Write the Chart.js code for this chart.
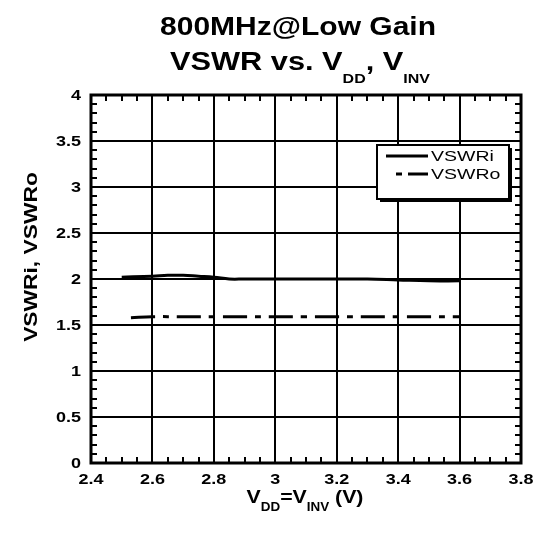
<!DOCTYPE html>
<html>
<head>
<meta charset="utf-8">
<script src="https://cdn.jsdelivr.net/npm/chart.js@4/dist/chart.umd.min.js"></script>
<style>
	html, body { margin: 0; padding: 0; background: #fff; }
	canvas { display: block; }
</style>
</head>
<body>
<canvas id="vswr" width="535" height="535"></canvas>
<script>
// values
var vddI = [2.5, 2.6, 2.65, 2.7, 2.75, 2.8, 2.85, 2.9, 3.0, 3.1, 3.2, 3.3, 3.4, 3.5, 3.6];
var vswri = [2.02, 2.03, 2.04, 2.04, 2.03, 2.02, 2.0, 2.0, 2.0, 2.0, 2.0, 2.0, 1.99, 1.98, 1.98];
var vddO = [2.53, 2.6, 2.7, 2.8, 2.9, 3.0, 3.1, 3.2, 3.3, 3.4, 3.5, 3.6];
var vswro = [1.58, 1.59, 1.59, 1.59, 1.59, 1.59, 1.59, 1.59, 1.59, 1.59, 1.59, 1.59];

var xTicks = [2.4, 2.6, 2.8, 3.0, 3.2, 3.4, 3.6, 3.8];
var xTickLabels = ['2.4', '2.6', '2.8', '3', '3.2', '3.4', '3.6', '3.8'];
var yTicks = [0, 0.5, 1, 1.5, 2, 2.5, 3, 3.5, 4];
var yTickLabels = ['0', '0.5', '1', '1.5', '2', '2.5', '3', '3.5', '4'];

var FONT = '"Liberation Sans", Arial, Helvetica, sans-serif';

function pts(xs, ys) {
	return xs.map(function (x, i) { return { x: x, y: ys[i] }; });
}

// draw a run of text pieces (with subscripts), stretched horizontally by sx
function drawRun(ctx, parts, x, y, align, sx) {
	ctx.save();
	var total = 0;
	parts.forEach(function (p) {
		ctx.font = p.font;
		p.w = ctx.measureText(p.text).width;
		total += p.w;
	});
	ctx.translate(x, y);
	ctx.scale(sx, 1);
	var cx = align === 'center' ? -total / 2 : (align === 'right' ? -total : 0);
	ctx.fillStyle = '#000';
	ctx.textBaseline = 'alphabetic';
	ctx.textAlign = 'left';
	parts.forEach(function (p) {
		ctx.font = p.font;
		ctx.fillText(p.text, cx, p.dy || 0);
		cx += p.w;
	});
	ctx.restore();
}

var decor = {
	id: 'decor',
	afterDraw: function (chart) {
		var ctx = chart.ctx;
		var a = chart.chartArea;
		var xs = chart.scales.x, ys = chart.scales.y;

		// minor ticks, pointing inward
		ctx.save();
		ctx.strokeStyle = '#000';
		ctx.lineWidth = 2;
		ctx.beginPath();
		for (var i = 0; i <= 40; i++) {
			var py = Math.round(ys.getPixelForValue(i * 0.1));
			ctx.moveTo(a.left, py); ctx.lineTo(a.left + 6, py);
			ctx.moveTo(a.right, py); ctx.lineTo(a.right - 6, py);
		}
		for (var j = 0; j <= 28; j++) {
			var px = Math.round(xs.getPixelForValue(2.4 + j * 0.05));
			ctx.moveTo(px, a.bottom); ctx.lineTo(px, a.bottom - 6);
			ctx.moveTo(px, a.top); ctx.lineTo(px, a.top + 6);
		}
		ctx.stroke();

		// frame
		ctx.lineWidth = 3;
		ctx.strokeRect(a.left, a.top, a.right - a.left, a.bottom - a.top);
		ctx.restore();

		// tick labels
		var tf = 'bold 15px ' + FONT;
		yTicks.forEach(function (v, k) {
			drawRun(ctx, [{ text: yTickLabels[k], font: tf }], a.left - 10, ys.getPixelForValue(v) + 5, 'right', 1.2);
		});
		xTicks.forEach(function (v, k) {
			drawRun(ctx, [{ text: xTickLabels[k], font: tf }], xs.getPixelForValue(v), a.bottom + 21, 'center', 1.2);
		});

		// titles
		var big = 'bold 25px ' + FONT;
		var sub = 'bold 13px ' + FONT;
		drawRun(ctx, [{ text: '800MHz@Low Gain', font: big }], 298, 35, 'center', 1.2);
		drawRun(ctx, [
			{ text: 'VSWR vs. V', font: big },
			{ text: 'DD', font: sub, dy: 13 },
			{ text: ', V', font: big },
			{ text: 'INV', font: sub, dy: 13 }
		], 300, 70, 'center', 1.23);

		var lab = 'bold 19px ' + FONT;
		var lsub = 'bold 12px ' + FONT;
		drawRun(ctx, [
			{ text: 'V', font: lab },
			{ text: 'DD', font: lsub, dy: 8 },
			{ text: '=V', font: lab },
			{ text: 'INV', font: lsub, dy: 8 },
			{ text: ' (V)', font: lab }
		], 305, 503, 'center', 1.12);

		ctx.save();
		ctx.translate(37, 257);
		ctx.rotate(-Math.PI / 2);
		drawRun(ctx, [{ text: 'VSWRi, VSWRo', font: 'bold 19px ' + FONT }], 0, 0, 'center', 1.2);
		ctx.restore();

		// legend box with shadow
		var bx = 377, by = 145, bw = 132, bh = 54;
		ctx.save();
		ctx.fillStyle = '#000';
		ctx.fillRect(bx + 3, by + 3, bw, bh);
		ctx.fillStyle = '#fff';
		ctx.fillRect(bx, by, bw, bh);
		ctx.strokeStyle = '#000';
		ctx.lineWidth = 2;
		ctx.strokeRect(bx, by, bw, bh);
		chart.data.datasets.forEach(function (ds, k) {
			var ly = by + 11 + k * 18;
			ctx.save();
			ctx.strokeStyle = ds.borderColor;
			ctx.lineWidth = ds.borderWidth;
			ctx.setLineDash(k === 0 ? [] : [6, 6, 26, 0]);
			ctx.beginPath();
			ctx.moveTo(k === 0 ? 386 : 396, ly);
			ctx.lineTo(428, ly);
			ctx.stroke();
			ctx.restore();
			drawRun(ctx, [{ text: ds.label, font: '15px ' + FONT }], 431, ly + 5, 'left', 1.3);
		});
		ctx.restore();
	}
};

var ctx = document.getElementById('vswr').getContext('2d');
var chart = new Chart(ctx, {
	type: 'line',
	data: {
		datasets: [{
			label: 'VSWRi',
			data: pts(vddI, vswri),
			borderColor: '#000',
			borderWidth: 3,
			pointRadius: 0,
			tension: 0.4,
			fill: false
		}, {
			label: 'VSWRo',
			data: pts(vddO, vswro),
			borderColor: '#000',
			borderWidth: 3,
			borderDash: [24, 8, 6, 8],
			pointRadius: 0,
			tension: 0.4,
			fill: false
		}]
	},
	options: {
		responsive: false,
		animation: false,
		layout: { padding: { top: 95, right: 14, left: 0, bottom: 0 } },
		plugins: {
			legend: { display: false },
			tooltip: { enabled: false },
			title: { display: false }
		},
		scales: {
			x: {
				type: 'linear',
				min: 2.4,
				max: 3.8,
				afterBuildTicks: function (s) { s.ticks = xTicks.map(function (v) { return { value: v }; }); },
				afterFit: function (s) { s.height = 72; },
				ticks: { display: false },
				grid: { color: '#000', lineWidth: 2, drawTicks: false },
				border: { display: false }
			},
			y: {
				type: 'linear',
				min: 0,
				max: 4,
				afterBuildTicks: function (s) { s.ticks = yTicks.map(function (v) { return { value: v }; }); },
				afterFit: function (s) { s.width = 91; },
				ticks: { display: false },
				grid: { color: '#000', lineWidth: 2, drawTicks: false },
				border: { display: false }
			}
		}
	},
	plugins: [decor]
});
</script>
</body>
</html>
